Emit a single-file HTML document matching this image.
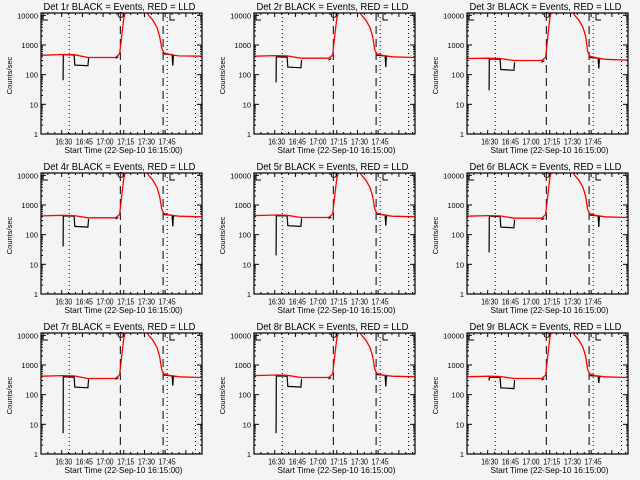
<!DOCTYPE html>
<html><head><meta charset="utf-8">
<style>
html,body{margin:0;padding:0;background:#f4f4f4;}
svg{display:block;font-family:"Liberation Sans",sans-serif;}
text{fill:#000;}
</style></head>
<body>
<svg id="chart" width="640" height="480" viewBox="0 0 640 480" xmlns="http://www.w3.org/2000/svg">
<rect width="640" height="480" fill="#f4f4f4"/>
</svg>
<script>
// minutes since 16:15:00
const redTimes = [0,16,24,34,54,57,58.5,60,61.5,76,78,81,84,86,87.5,89,93,100,116];
const blackTimes = [16,16.2,24,24.5,34,34.5,54,56,89,95,95.5,96,97];
const detectorNames = ["Det 1r","Det 2r","Det 3r","Det 4r","Det 5r","Det 6r","Det 7r","Det 8r","Det 9r"];
const redSeries = [
 [450,480,470,380,380,500,2000,8000,15000,15000,10000,7000,4000,2000,800,550,480,430,420],
 [420,440,430,360,360,450,2000,8000,15000,15000,10000,7000,4000,2000,700,500,450,400,380],
 [350,360,350,300,300,380,1800,8000,15000,15000,10000,7000,4000,2000,600,420,380,330,310],
 [430,450,440,370,370,480,2000,8000,15000,15000,10000,7000,4000,2000,750,520,460,420,400],
 [440,460,450,380,380,490,2000,8000,15000,15000,10000,7000,4000,2000,750,530,470,420,400],
 [420,440,430,360,360,470,2000,8000,15000,15000,10000,7000,4000,2000,700,510,450,400,380],
 [420,440,430,350,350,460,2000,8000,15000,15000,10000,7000,4000,2000,700,500,450,400,380],
 [440,460,450,380,380,490,2000,8000,15000,15000,10000,7000,4000,2000,750,520,460,420,400],
 [400,420,410,350,350,450,2000,8000,15000,15000,10000,7000,4000,2000,700,500,440,400,380]
];
const blackSeries = [
 [65,470,460,210,200,360,360,400,500,480,200,450,440],
 [55,400,390,180,170,310,310,350,450,430,180,420,410],
 [30,340,330,150,140,260,260,300,380,360,160,350,340],
 [40,430,420,190,180,340,340,380,480,450,190,430,420],
 [20,440,430,200,190,350,350,390,490,460,200,440,430],
 [25,420,410,180,170,320,320,360,460,430,180,420,410],
 [5,400,390,180,170,330,330,370,460,430,200,420,410],
 [5,430,420,190,180,340,340,380,480,450,190,430,420],
 [300,390,380,170,160,310,310,350,440,420,250,400,390]
];
const dottedTimes = [20.5,91.5,112];
const dashedTimes = [57.5,88.5];
const xTickLabels = ["16:30","16:45","17:00","17:15","17:30","17:45"];
const xTickTimes = [15,30,45,60,75,90];
const yTickValues = [1,10,100,1000,10000];
const yTickLabels = ["1","10","100","1000","10000"];
const bracketTimes = [1.5,93.5];

const NS="http://www.w3.org/2000/svg";
const svg=document.getElementById('chart');
function mk(tag,attrs,parent){const e=document.createElementNS(NS,tag);for(const k in attrs)e.setAttribute(k,attrs[k]);(parent||svg).appendChild(e);return e;}

const W=161, H=121, TMAX=116.7, YMAXLOG=Math.log10(12000);
for(let p=0;p<9;p++){
  const col=p%3,row=Math.floor(p/3);
  const L=41+col*213, T=13+row*160, B=T+H, R=L+W;
  const xs=t=>L+t/TMAX*W;
  const ys=v=>B-Math.log10(Math.max(v,1))/YMAXLOG*H;
  const g=mk('g',{});
  
  
  const clipId='clip'+p;
  const cp=mk('clipPath',{id:clipId},g);
  mk('rect',{x:L,y:T,width:W,height:H},cp);
  const tt=mk('text',{x:L+W/2-2,y:T-3,'text-anchor':'middle','font-size':'10.5',textLength:'152',lengthAdjust:'spacingAndGlyphs'},g);
  tt.textContent=detectorNames[p]+" BLACK = Events, RED = LLD";
  
  
  for(let i=0;i<yTickValues.length;i++){
    const y=ys(yTickValues[i]);
    mk('line',{x1:L,y1:y,x2:L+5,y2:y,stroke:'#000'},g);
    mk('line',{x1:R,y1:y,x2:R-5,y2:y,stroke:'#000'},g);
    const lb=mk('text',{x:L-3,y:y+3,'text-anchor':'end','font-size':'7.5'},g);
    lb.textContent=yTickLabels[i];
    
    
    if(i<yTickValues.length-1){
      for(let m=2;m<10;m++){const ym=ys(yTickValues[i]*m);
        mk('line',{x1:L,y1:ym,x2:L+2,y2:ym,stroke:'#000'},g);
        mk('line',{x1:R,y1:ym,x2:R-2,y2:ym,stroke:'#000'},g);}
    }
  }
  for(let t=5;t<TMAX;t+=5){const x=xs(t);const len=(t%15===0)?4:2;
    mk('line',{x1:x,y1:B,x2:x,y2:B-len,stroke:'#000'},g);
    mk('line',{x1:x,y1:T,x2:x,y2:T+len,stroke:'#000'},g);}
  for(let i=0;i<xTickLabels.length;i++){
    const lb=mk('text',{x:xs(xTickTimes[i])+2,y:B+10.5,'text-anchor':'middle','font-size':'8.5',textLength:'17',lengthAdjust:'spacingAndGlyphs'},g);
    lb.textContent=xTickLabels[i];
    
    
  }
  const xt=mk('text',{x:L+W/2+2,y:B+19,'text-anchor':'middle','font-size':'8.5',textLength:'118',lengthAdjust:'spacingAndGlyphs'},g);
  xt.textContent="Start Time (22-Sep-10 16:15:00)";
  
  
  const yt=mk('text',{x:0,y:0,'text-anchor':'middle','font-size':'7.5',transform:`translate(${L-29},${T+H/2+2}) rotate(-90)`},g);
  yt.textContent="Counts/sec";
  
  
  dottedTimes.forEach(t=>{const l=mk('line',{x1:xs(t),y1:T,x2:xs(t),y2:B,stroke:'#000','stroke-dasharray':'1,3'},g);
    });
  dashedTimes.forEach(t=>{const l=mk('line',{x1:xs(t),y1:T,x2:xs(t),y2:B,stroke:'#000','stroke-dasharray':'8,5'},g);
    });
  bracketTimes.forEach(t=>{const x=xs(t);mk('path',{d:`M${x+6},${T} H${x} V${T+7} H${x+5}`,fill:'none',stroke:'#000'},g);});
  mk('circle',{cx:xs(57.8),cy:T+2,r:2.5,fill:'none',stroke:'#000'},g);
  let bd='';
  blackTimes.forEach((t,i)=>{const brk=i===0||t-blackTimes[i-1]>10;bd+=(brk?'M':'L')+xs(t).toFixed(1)+','+ys(blackSeries[p][i]).toFixed(1)+' ';});
  const bl=mk('path',{d:bd,fill:'none',stroke:'#000','stroke-width':'1.2','clip-path':`url(#${clipId})`},g);
  
  
  const rd=redTimes.map((t,i)=>(i?'L':'M')+xs(t).toFixed(1)+','+ys(redSeries[p][i]).toFixed(1)).join(' ');
  const rl=mk('path',{d:rd,fill:'none',stroke:'#f00','stroke-width':'1.3','clip-path':`url(#${clipId})`},g);
  
  
  const fr=mk('rect',{x:L,y:T,width:W,height:H,fill:'none',stroke:'#000','stroke-width':'1.2'},g);
  
  
}
</script>
</body></html>
